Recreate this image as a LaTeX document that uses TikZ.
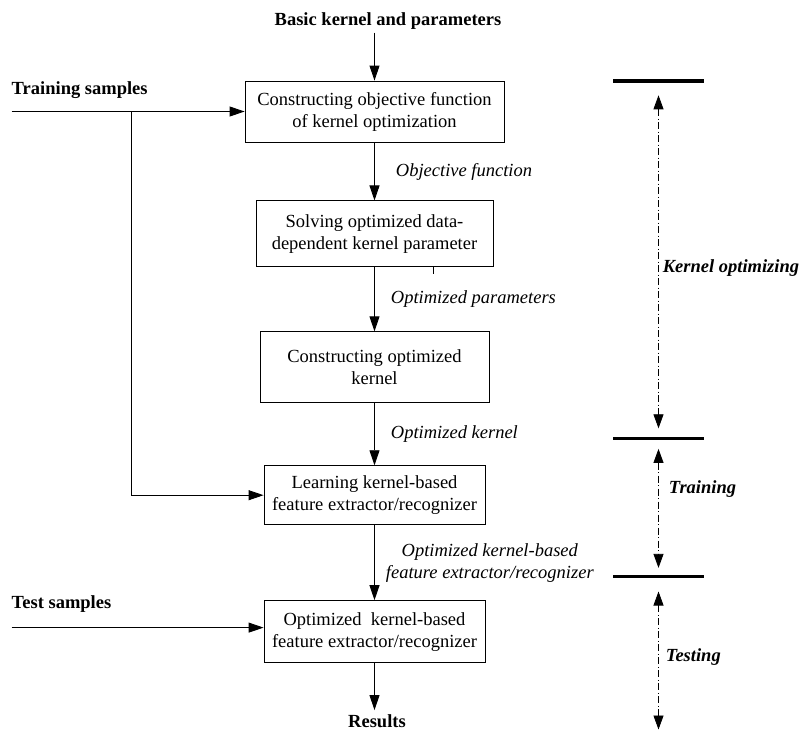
\documentclass[tikz,border=0pt]{standalone}
\usepackage{fontspec}
\setmainfont{Liberation Serif}
\usetikzlibrary{arrows.meta,positioning}

\begin{document}
\begin{tikzpicture}[
  x=1pt, y=1pt,
  font=\fontsize{18.5}{22}\selectfont,
  stage/.style={
    rectangle, draw, line width=0.9pt, align=center, inner sep=3pt
  },
  side/.style={font=\fontsize{18.5}{22}\selectfont\bfseries, inner sep=3pt},
  flow/.style={font=\fontsize{18.5}{22}\selectfont\itshape, inner sep=0pt, align=center},
  phasetxt/.style={font=\fontsize{18.5}{22}\selectfont\bfseries\itshape, inner sep=0pt},
  bar/.style={rectangle, fill=black, minimum width=91pt, minimum height=3.2pt, inner sep=0pt},
  arr/.style={-{Triangle[length=15pt,width=10pt]}, line width=0.9pt},
  phase/.style={{Triangle[length=14pt,width=10pt]}-{Triangle[length=14pt,width=10pt]},
    line width=0.8pt, dash pattern=on 7pt off 2.5pt on 1pt off 2.5pt},
]
  \useasboundingbox (0,0) rectangle (803,-732);

  % Main stages
  \node[stage, minimum width=259pt, minimum height=61pt] (b1) at (374.5,-111.5)
    {Constructing objective function\\of kernel optimization};
  \node[stage, minimum width=237pt, minimum height=66pt, below=58pt of b1] (b2)
    {Solving optimized data-\\dependent kernel parameter};
  \node[stage, minimum width=229pt, minimum height=71pt, below=64pt of b2] (b3)
    {Constructing optimized\\kernel};
  \node[stage, minimum width=221pt, minimum height=59pt, below=62pt of b3] (b4)
    {Learning kernel-based\\feature extractor/recognizer};
  \node[stage, minimum width=221pt, minimum height=62pt, below=75pt of b4] (b5)
    {Optimized~~kernel-based\\feature extractor/recognizer};

  % Top and bottom texts
  \node[side, above=48pt of b1, xshift=13.5pt] (top) {Basic kernel and parameters};
  \node[side, inner sep=1pt, below=50pt of b5, xshift=2.5pt] (res) {Results};

  % Flow arrows
  \draw[arr] (top.south -| b1.north) -- (b1.north);
  \draw[arr] (b1) -- node[flow, right=21pt] {Objective function} (b2);
  \draw[arr] (b2) -- node[flow, right=16pt] {Optimized parameters} (b3);
  \draw[arr] (b3) -- node[flow, right=16pt] {Optimized kernel} (b4);
  \draw[arr] (b4) -- node[flow, right=11pt] {Optimized kernel-based\\feature extractor/recognizer} (b5);
  \draw[arr, shorten >=3pt] (b5.south) -- (b5.south |- res.north);
  \draw[line width=0.9pt] ([xshift=58.5pt]b2.south) -- ++(0,-7);

  % Sample inputs
  \coordinate[left=233pt of b1.west] (trin);
  \node[side, above right=10pt and -3pt of trin] (trs) {Training samples};
  \coordinate[right=120pt of trin] (br);
  \draw[arr] (trin) -- (b1.west);
  \draw[arr] (br) |- (b4.west);
  \coordinate (tein) at ([xshift=-252pt, yshift=4pt]b5.west);
  \node[side, above right=12pt and -3pt of tein] (tes) {Test samples};
  \draw[arr] (tein) -- (tein -| b5.west);

  % Phases
  \node[bar] (bar1) at (658.5,-81) {};
  \node[bar, below=354pt of bar1] (bar2) {};
  \node[bar, below=134pt of bar2] (bar3) {};
  \coordinate[below=151.5pt of bar3.south] (pend);
  \draw[phase, shorten <=12.5pt, shorten >=8.5pt] (bar1) --
    node[phasetxt, pos=.524, right=4pt] {Kernel optimizing} (bar2);
  \draw[phase, shorten <=8.5pt, shorten >=6.5pt] (bar2) --
    node[phasetxt, pos=.362, right=10pt] {Training} (bar3);
  \draw[phase, shorten <=13.5pt] (bar3) --
    node[phasetxt, pos=.525, right=7pt] {Testing} (pend);
\end{tikzpicture}
\end{document}
